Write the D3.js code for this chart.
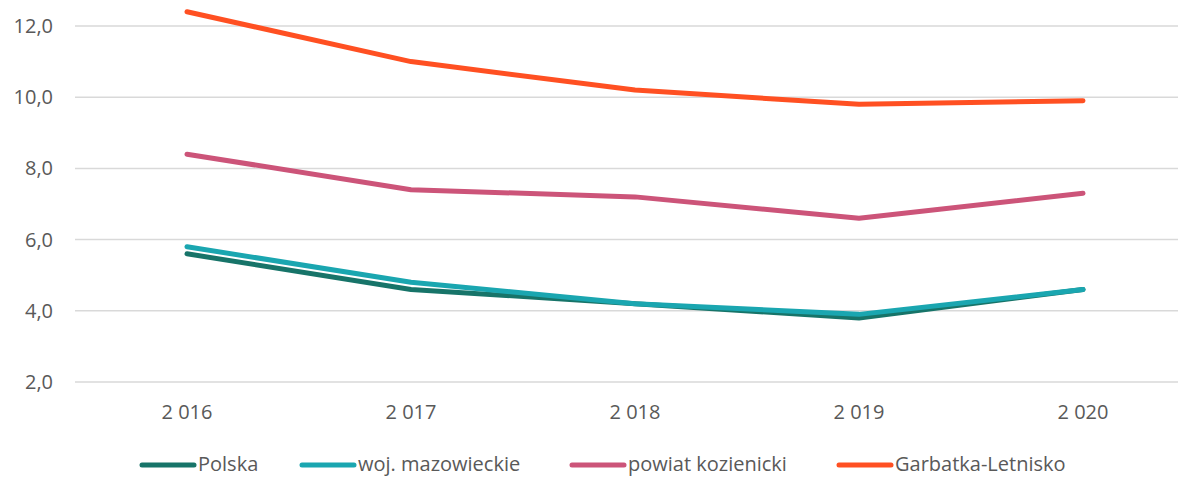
<!DOCTYPE html>
<html><head><meta charset="utf-8">
<script src="https://cdn.jsdelivr.net/npm/d3@7"></script>
<style>body{margin:0;background:#fff}svg{display:block}text{font-family:"Open Sans","Noto Sans",sans-serif;fill:#595959}</style>
</head><body><svg id="c" width="1178" height="477"></svg>
<script>
const years = ["2 016","2 017","2 018","2 019","2 020"];
const polska = [5.6,4.6,4.2,3.8,4.6];
const mazowieckie = [5.8,4.8,4.2,3.9,4.6];
const kozienicki = [8.4,7.4,7.2,6.6,7.3];
const garbatka = [12.4,11.0,10.2,9.8,9.9];
const yTicks = [2,4,6,8,10,12];
const seriesNames = ["Polska","woj. mazowieckie","powiat kozienicki","Garbatka-Letnisko"];
const colors = ["#177469","#1aa6b0","#cc5479","#ff5022"];
const series = [polska, mazowieckie, kozienicki, garbatka];

const svg = d3.select("#c");
const x = d3.scaleBand().domain(years).range([75,1195]);
const y = d3.scaleLinear().domain([2,12]).range([382,26]);

svg.append("g").selectAll("line").data(yTicks).join("line")
  .attr("x1",75).attr("x2",1178).attr("y1",d=>y(d)).attr("y2",d=>y(d))
  .attr("stroke","#d9d9d9").attr("stroke-width",1.5);
svg.append("g").selectAll("text").data(yTicks).join("text")
  .attr("x",53).attr("y",d=>y(d)).attr("dy","0.35em").attr("text-anchor","end")
  .attr("font-size",20).text(d=>d.toFixed(1).replace(".",","));
svg.append("g").selectAll("text").data(years).join("text")
  .attr("x",d=>x(d)+x.bandwidth()/2).attr("y",412).attr("dy","0.35em").attr("text-anchor","middle")
  .attr("font-size",20).text(d=>d);

const line = d3.line().x((d,i)=>x(years[i])+x.bandwidth()/2).y(d=>y(d));
series.forEach((s,i)=>{
  svg.append("path").attr("d",line(s)).attr("fill","none").attr("stroke",colors[i])
    .attr("stroke-width",5).attr("stroke-linecap","round").attr("stroke-linejoin","round");
});

const legX = [142,302,572,839];
const lg = svg.append("g");
seriesNames.forEach((n,i)=>{
  lg.append("line").attr("x1",legX[i]).attr("x2",legX[i]+52).attr("y1",465).attr("y2",465)
    .attr("stroke",colors[i]).attr("stroke-width",5).attr("stroke-linecap","round");
  lg.append("text").attr("x",legX[i]+56).attr("y",471).attr("font-size",20).text(n);
});
</script></body></html>
